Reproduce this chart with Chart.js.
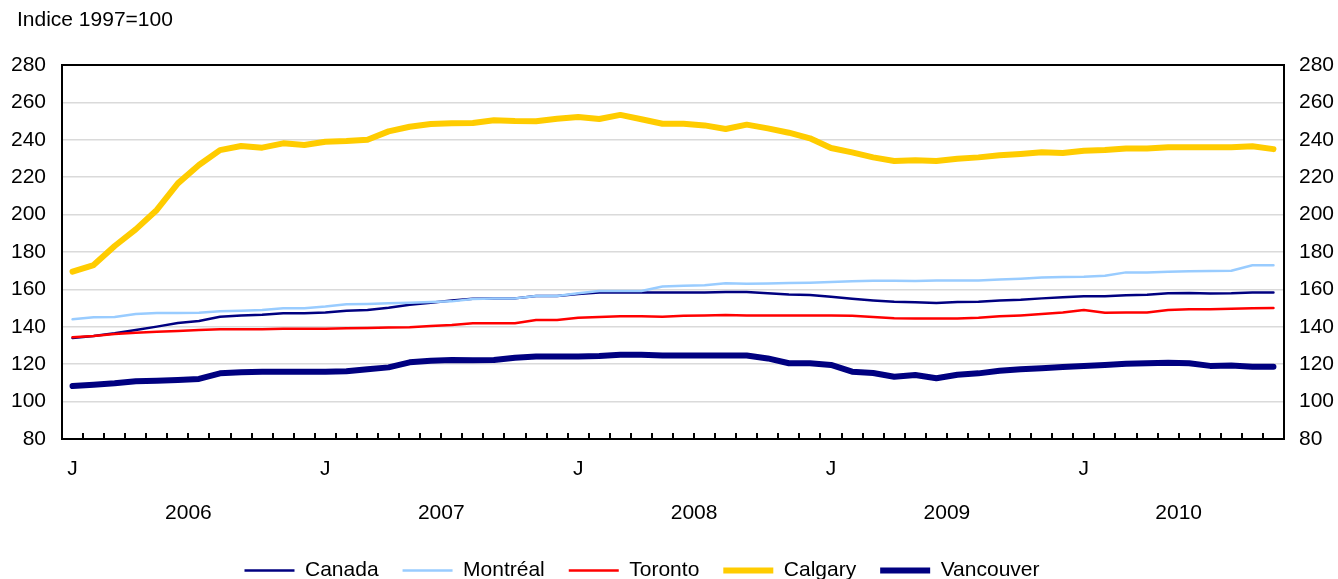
<!DOCTYPE html>
<html>
<head>
<meta charset="utf-8">
<script src="https://cdn.jsdelivr.net/npm/chart.js@4.4.0/dist/chart.umd.min.js"></script>
<style>
html, body { margin: 0; padding: 0; background: #fff; }
</style>
</head>
<body>
<canvas id="myChart" width="1338" height="579"></canvas>
<script>
const FONT = '"Liberation Sans", Arial, sans-serif';
const yTitle = 'Indice 1997=100';
const years = ['2006', '2007', '2008', '2009', '2010'];
const monthLetters = ['J', 'F', 'M', 'A', 'M', 'J', 'J', 'A', 'S', 'O', 'N', 'D'];
const yTicks = [80, 100, 120, 140, 160, 180, 200, 220, 240, 260, 280];

// janvier 2006 -> octobre 2010
const canada = [134.0, 135.1, 136.5, 138.3, 140.1, 142.0, 143.1, 145.4, 146.1, 146.5, 147.2, 147.2,
    147.7, 148.6, 149.0, 150.2, 151.8, 152.9, 154.1, 155.0, 155.2, 155.2, 156.5, 156.5,
    157.5, 158.3, 158.4, 158.4, 158.3, 158.3, 158.4, 158.6, 158.6, 157.9, 157.3, 157.0,
    156.1, 155.0, 154.1, 153.4, 153.1, 152.7, 153.2, 153.4, 154.1, 154.5, 155.2, 155.8,
    156.3, 156.3, 156.9, 157.2, 157.9, 158.1, 157.8, 157.9, 158.3, 158.3];
const montreal = [144.0, 145.1, 145.2, 146.8, 147.4, 147.4, 147.5, 148.3, 148.6, 149.0, 149.9, 149.9,
    150.8, 152.0, 152.2, 152.6, 152.9, 153.3, 153.6, 154.9, 155.2, 155.2, 156.5, 156.5,
    157.9, 159.1, 159.1, 159.1, 161.6, 162.0, 162.2, 163.3, 163.0, 163.1, 163.4, 163.6,
    164.0, 164.3, 164.6, 164.6, 164.5, 164.8, 164.8, 164.8, 165.3, 165.7, 166.3, 166.6,
    166.8, 167.3, 169.1, 169.1, 169.5, 169.7, 169.8, 170.0, 172.9, 172.9];
const toronto = [134.4, 135.1, 136.1, 136.8, 137.4, 137.8, 138.3, 138.7, 138.7, 138.7, 139.0, 139.0,
    139.0, 139.2, 139.4, 139.6, 139.7, 140.4, 141.0, 141.9, 141.9, 141.9, 143.6, 143.6,
    144.9, 145.2, 145.6, 145.6, 145.4, 145.9, 146.1, 146.3, 146.1, 146.1, 146.1, 146.1,
    146.1, 145.9, 145.2, 144.6, 144.4, 144.4, 144.5, 144.9, 145.6, 146.1, 146.8, 147.7,
    149.0, 147.5, 147.7, 147.7, 149.0, 149.4, 149.4, 149.7, 149.9, 150.1];
const calgary = [169.5, 173.0, 183.2, 192.1, 202.5, 216.7, 226.5, 234.5, 236.7, 235.8, 238.1, 237.2,
    239.0, 239.3, 240.0, 244.5, 247.0, 248.5, 248.8, 249.0, 250.4, 250.0, 249.9, 251.3,
    252.2, 251.1, 253.3, 251.0, 248.6, 248.6, 247.7, 245.8, 248.1, 246.1, 243.8, 240.8,
    235.6, 233.3, 230.6, 228.7, 229.0, 228.7, 229.9, 230.6, 231.7, 232.4, 233.3, 232.9,
    234.2, 234.5, 235.4, 235.4, 236.0, 236.0, 236.0, 236.0, 236.5, 235.0];
const vancouver = [108.3, 109.0, 109.8, 110.9, 111.2, 111.6, 112.1, 115.1, 115.7, 116.0, 116.0, 116.0,
    116.0, 116.2, 117.3, 118.3, 121.0, 121.9, 122.2, 122.1, 122.2, 123.5, 124.1, 124.1,
    124.1, 124.4, 125.0, 125.0, 124.6, 124.6, 124.6, 124.6, 124.6, 123.1, 120.5, 120.5,
    119.6, 116.0, 115.3, 113.3, 114.2, 112.5, 114.4, 115.1, 116.5, 117.3, 117.8, 118.5,
    119.1, 119.6, 120.2, 120.5, 120.8, 120.5, 119.1, 119.3, 118.7, 118.7];

const labels = [];
for (let i = 0; i < canada.length; i++) {
    labels.push(monthLetters[i % 12] + ' ' + years[Math.floor(i / 12)]);
}

// small tick marks pointing up + black frame round the plot
const framePlugin = {
    id: 'frame',
    afterDatasetsDraw(chart) {
        const { ctx, chartArea: a, scales: { x } } = chart;
        ctx.save();
        ctx.strokeStyle = '#000';
        ctx.lineWidth = 2;
        for (let i = 1; i < labels.length; i++) {
            const px = Math.round((x.getPixelForValue(i - 1) + x.getPixelForValue(i)) / 2);
            ctx.beginPath();
            ctx.moveTo(px, a.bottom);
            ctx.lineTo(px, a.bottom - 6);
            ctx.stroke();
        }
        ctx.strokeRect(a.left, a.top, a.right - a.left, a.bottom - a.top);
        ctx.restore();
    }
};

// year names under the J's, right-hand tick labels, and the index title top left
const textPlugin = {
    id: 'texts',
    afterDraw(chart) {
        const { ctx, chartArea: a, scales: { x, y } } = chart;
        ctx.save();
        ctx.fillStyle = '#000';
        ctx.font = '21px ' + FONT;
        ctx.textAlign = 'center';
        ctx.textBaseline = 'middle';
        years.forEach((yr, k) => {
            const first = k * 12;
            const last = Math.min(first + 11, labels.length - 1);
            const cx = (x.getPixelForValue(first) + x.getPixelForValue(last)) / 2;
            ctx.fillText(yr, cx, a.bottom + 74);
        });
        ctx.textAlign = 'left';
        yTicks.forEach(v => {
            ctx.fillText(String(v), a.right + 15, y.getPixelForValue(v));
        });
        ctx.fillText(yTitle, 17, 20);
        ctx.restore();
    }
};

const ctx = document.getElementById('myChart').getContext('2d');
new Chart(ctx, {
    type: 'line',
    data: {
        labels: labels,
        datasets: [
            { label: 'Canada', data: canada, borderColor: '#000080', backgroundColor: '#000080', borderWidth: 2.5, order: 5 },
            { label: 'Montréal', data: montreal, borderColor: '#99ccff', backgroundColor: '#99ccff', borderWidth: 2.5, order: 4 },
            { label: 'Toronto', data: toronto, borderColor: '#ff0000', backgroundColor: '#ff0000', borderWidth: 2.5, order: 3 },
            { label: 'Calgary', data: calgary, borderColor: '#ffcc00', backgroundColor: '#ffcc00', borderWidth: 6, order: 2 },
            { label: 'Vancouver', data: vancouver, borderColor: '#000080', backgroundColor: '#000080', borderWidth: 6, order: 1 }
        ]
    },
    options: {
        responsive: false,
        animation: false,
        layout: { padding: { left: 0, right: 54, top: 65, bottom: -12 } },
        elements: {
            point: { radius: 0, hoverRadius: 0 },
            line: { tension: 0, fill: false, borderJoinStyle: 'round', borderCapStyle: 'round' }
        },
        scales: {
            x: {
                offset: true,
                afterFit: s => { s.height = 97; },
                grid: { display: false, drawTicks: false },
                border: { display: false },
                ticks: {
                    autoSkip: false,
                    maxRotation: 0,
                    minRotation: 0,
                    padding: 18,
                    color: '#000',
                    font: { family: FONT, size: 21 },
                    callback: (val, index) => (index % 12 === 0 ? 'J' : '')
                }
            },
            y: {
                position: 'left',
                min: 80,
                max: 280,
                afterBuildTicks: s => { s.ticks = yTicks.map(v => ({ value: v })); },
                afterFit: s => { s.width = 62; },
                grid: { color: '#dadada', lineWidth: 1.5, drawTicks: false },
                border: { display: false },
                ticks: {
                    color: '#000',
                    padding: 16,
                    font: { family: FONT, size: 21 }
                }
            }
        },
        plugins: {
            title: { display: false },
            tooltip: { enabled: false },
            legend: {
                position: 'bottom',
                labels: {
                    usePointStyle: true,
                    pointStyle: 'line',
                    pointStyleWidth: 50,
                    padding: 24,
                    color: '#000',
                    font: { family: FONT, size: 21 },
                    sort: (a, b) => a.datasetIndex - b.datasetIndex
                }
            }
        }
    },
    plugins: [framePlugin, textPlugin]
});
</script>
</body>
</html>
